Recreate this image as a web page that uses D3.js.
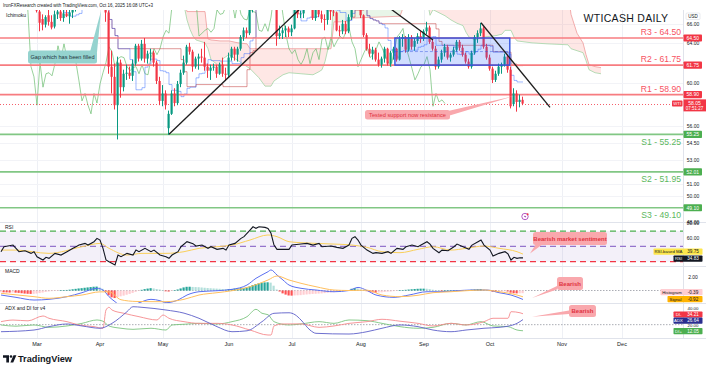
<!DOCTYPE html>
<html><head><meta charset="utf-8">
<script src="https://cdn.jsdelivr.net/npm/d3@7"></script>
<style>body{margin:0;background:#fff;}svg{display:block;font-family:"Liberation Sans",Arial,sans-serif;}</style>
</head><body><svg id="c" width="706" height="367"></svg>
<script>
// ---------------- DATA ----------------
const firstIndex = -12; // bar index of first candle (Mar 3 2025 = 0)
const ohlc = [
[71.3,71.9,70.8,71.3],[71.3,71.6,70.5,70.7],[70.7,71.3,70.5,71.1],[71.1,72.0,70.9,71.8],[71.8,72.6,71.5,72.2],[72.2,72.9,72.0,72.5],
[72.5,72.7,70.2,70.4],[70.4,71.2,70.1,70.7],[70.7,71.0,68.6,68.9],[68.9,69.3,68.1,68.6],[68.6,70.6,68.5,70.3],[70.3,70.5,69.2,69.8],
[69.8,70.5,67.2,67.4],[67.3,68.0,65.2,66.1],[66.5,67.0,65.3,65.9],[65.9,66.9,65.6,66.7],[66.9,67.5,65.8,66.2],[66.2,66.9,65.4,65.6],
[65.7,67.4,65.5,67.0],[67.0,67.7,66.5,67.3],[67.3,68.0,66.3,66.6],[66.6,67.6,66.2,67.1],[67.1,68.2,66.7,66.8],[66.8,67.5,66.0,67.2],
[67.2,68.0,66.6,67.6],[67.6,68.5,67.3,68.1],[68.1,68.6,67.8,68.3],[68.3,69.5,68.0,69.1],[69.1,69.4,68.7,69.0],[69.0,70.0,68.6,69.7],
[69.7,70.2,69.3,69.9],[69.9,70.0,69.0,69.4],[69.4,71.6,69.3,71.5],[71.5,71.9,70.5,71.2],[71.2,72.0,70.6,71.7],[69.5,69.8,66.2,67.2],
[67.2,67.4,60.9,61.6],[61.6,63.2,59.0,60.6],[60.6,61.9,57.5,57.9],[57.9,62.6,54.8,62.0],[62.0,62.3,58.6,59.6],[59.6,61.3,59.2,60.9],
[60.9,61.8,60.3,61.0],[61.0,61.6,60.4,60.7],[60.7,62.3,60.2,61.9],[61.9,63.9,61.7,63.7],[63.7,63.9,62.1,62.4],[62.4,64.3,62.2,63.9],
[63.9,64.5,62.0,62.4],[62.4,63.2,61.9,62.9],[62.9,63.4,62.2,63.0],[63.0,63.2,61.6,62.0],[62.0,62.2,59.9,60.2],[60.2,60.6,57.9,58.3],
[58.3,59.8,57.8,59.0],[59.0,59.3,57.5,57.9],[55.8,57.4,55.2,57.1],[57.1,59.3,57.0,59.0],[59.0,59.5,57.8,58.1],[58.1,60.2,57.9,59.9],
[59.9,61.3,59.6,61.0],[61.0,62.7,60.8,62.0],[62.0,63.8,61.8,63.6],[63.6,64.0,62.8,63.1],[63.1,63.3,61.1,61.6],[61.6,62.6,61.4,62.4],
[62.4,62.9,61.3,62.6],[62.6,63.4,62.0,62.5],[62.5,64.1,61.2,61.6],[61.6,61.9,60.5,61.2],[61.2,61.8,60.3,61.5],[61.5,61.9,61.2,61.6],
[61.6,61.8,60.5,60.9],[60.9,62.0,60.8,61.8],[61.8,62.5,60.6,60.9],[60.9,61.5,60.2,60.8],[60.8,63.0,60.6,62.5],[62.5,63.6,62.2,63.4],
[63.4,63.6,62.2,62.8],[62.8,63.6,62.1,63.4],[63.4,64.8,63.2,64.6],[64.6,65.6,64.2,65.3],[65.3,65.6,64.5,65.0],[65.0,68.2,64.8,67.9],
[67.9,68.5,67.2,68.0],[68.0,77.6,67.8,73.0],[73.0,74.3,71.0,71.8],[71.8,75.2,71.1,74.8],[74.8,75.6,73.3,75.1],[75.1,75.8,73.6,74.0],
[74.0,75.4,72.8,73.8],[73.8,78.4,68.0,68.5],[68.3,68.6,63.7,64.7],[64.7,65.8,64.4,65.0],[65.0,65.6,64.4,65.3],[65.3,65.8,64.6,65.5],
[65.5,65.7,64.6,65.1],[65.1,65.9,64.7,65.5],[65.5,67.8,65.4,67.5],[67.5,67.9,66.6,67.0],[67.0,67.4,66.6,67.1],[67.1,68.3,66.6,67.9],
[67.9,68.8,67.5,68.3],[68.3,68.6,67.6,68.4],[68.4,68.6,66.4,66.6],[66.6,68.8,66.3,68.5],[68.5,69.7,66.7,67.0],[67.0,67.4,66.1,66.5],
[66.5,67.0,65.3,66.4],[66.4,68.0,65.9,67.5],[67.5,68.0,66.4,67.3],[67.3,67.9,66.8,67.2],[67.2,67.3,65.2,65.3],[65.3,65.8,64.7,65.2],
[65.2,66.4,64.9,66.0],[66.0,66.3,64.9,65.2],[65.2,67.0,65.0,66.7],[66.7,69.5,66.4,69.2],[69.2,70.5,68.9,70.0],[70.0,70.3,68.9,69.3],
[69.3,69.6,66.6,66.9],[66.9,67.0,64.6,64.8],[64.8,65.0,63.2,63.4],[63.4,63.9,62.6,62.9],[62.9,63.6,62.3,63.3],[63.3,63.5,62.1,62.3],
[62.3,63.0,61.6,61.8],[61.8,62.6,61.5,62.4],[62.4,63.6,62.0,63.4],[63.4,63.5,61.7,61.9],[61.9,63.2,61.6,63.0],[63.0,63.6,62.3,63.4],
[63.4,63.5,62.1,62.3],[62.3,64.7,62.2,64.4],[64.4,64.9,63.6,64.6],[64.6,64.7,63.0,63.3],[63.3,64.9,63.1,64.6],[64.6,64.8,63.3,63.6],
[63.6,64.5,63.2,64.2],[64.2,65.0,63.9,64.7],[64.7,65.2,64.0,64.4],[64.4,65.4,64.2,65.2],[65.2,66.2,64.9,65.6],[65.6,65.8,63.9,64.1],
[64.1,64.4,63.2,63.4],[63.4,63.7,61.3,61.6],[61.6,62.6,61.4,62.3],[62.3,63.3,62.0,63.0],[63.0,63.9,62.6,63.6],[63.6,63.8,62.3,62.5],
[62.5,63.0,62.1,62.8],[62.8,63.6,62.6,63.3],[63.3,64.3,63.1,64.1],[64.1,64.3,63.2,63.5],[63.5,63.8,62.6,62.8],[62.8,63.0,61.9,62.1],
[62.1,62.4,61.4,61.6],[61.6,63.2,61.4,63.0],[63.0,64.8,62.8,64.6],[64.6,65.3,64.0,65.0],[65.0,66.1,64.7,65.5],[65.5,65.7,63.4,63.6],
[63.6,63.9,62.3,62.5],[62.5,62.8,61.2,61.4],[61.4,61.6,60.0,60.3],[60.3,61.2,60.1,60.9],[60.9,61.9,60.7,61.6],[61.6,62.0,60.9,61.8],
[61.8,62.9,61.6,62.6],[62.6,62.8,61.0,61.3],[61.3,61.6,57.6,57.8],[58.0,59.5,57.8,59.0],[59.0,59.3,57.3,58.2],[58.2,58.9,57.7,58.4],
[58.4,58.7,57.9,58.05]
];
const monthTicks = [[0,"Mar"],[21,"Apr"],[42,"May"],[64,"Jun"],[85,"Jul"],[108,"Aug"],[129,"Sep"],[151,"Oct"],[175,"Nov"],[195,"Dec"]];
const priceTicks = [66,64,60,56,54.5,53,51,50,48];
const resistances = [[64.50,"R3 - 64.50","64.50"],[61.75,"R2 - 61.75","61.75"],[58.90,"R1 - 58.90","58.90"]];
const supports = [[55.25,"S1 - 55.25","55.25"],[52.01,"S2 - 51.95","52.01"],[49.10,"S3 - 49.10","49.10"]];
const lastPrice = 58.05;
// Ichimoku: [barIndex, value]
const tenkan = [[0,69.5],[6,68.0],[9,67.2],[11,66.8],[13,66.95],[14,67.1],[15,67.75],[17,68.5],[20,69.0],[23,69.1],[24,66.45],[25,65.5],[26,64.75],[27,63.4],[31,62.3],[32,61.1],[33,59.35],[35,59.55],[36,61.55],[37,61.85],[38,62.35],[40,62.2],[41,61.2],[42,61.15],[43,61.0],[44,59.85],[45,59.3],[47,59.2],[48,58.7],[49,58.95],[50,59.5],[51,59.6],[53,60.5],[54,60.9],[55,60.95],[56,61.85],[57,62.3],[58,62.2],[61,62.15],[65,61.9],[68,62.5],[69,62.9],[71,64.2],[72,64.55],[73,69.85],[80,71],[88,66.3],[90,66.6],[91,66.7],[93,66.75],[94,67.55],[95,67.9],[96,67.5],[100,67.45],[101,67.2],[103,66.35],[105,67.1],[106,67.6],[109,67.55],[110,66.85],[111,66.55],[112,66.4],[113,66.3],[114,66.05],[115,65.9],[116,65.55],[117,64.25],[118,63.25],[119,62.75],[120,62.55],[121,63.1],[122,63.2],[124,63.25],[127,63.55],[128,63.65],[129,63.8],[130,64.55],[131,64.6],[132,64.65],[133,63.75],[139,63.55],[140,62.85],[141,62.8],[142,62.85],[143,63.1],[144,62.85],[146,63.1],[147,63.35],[148,63.75],[151,63.65],[152,63.05],[157,62.85],[158,60.75],[159,60.25],[160,60.1],[162,60.1]];
const kijun = [[0,69.5],[23,68.6],[24,66.45],[25,65.5],[26,64.75],[27,63.4],[48,62.3],[49,61.1],[50,59.65],[53,59.85],[62,59.65],[70,61.3],[71,63.0],[72,63.2],[73,68.6],[74,71.0],[105,66.7],[106,67.45],[109,67.55],[110,66.85],[111,66.55],[112,66.4],[113,66.3],[114,66.05],[115,66.0],[133,65.45],[134,64.15],[135,63.75],[152,63.1],[156,63.05],[158,61.85],[160,61.7],[162,61.7]];
const cloudIndex = [40,48,49,50,51,52,53,56,57,58,61,62,64,67,70,71,74,76,78,79,82,84,88,92,94,95,96,97,98,99,104,105,121,122,123,124,125,130,131,132,136,138,140,142,143,144,146,149,153,155,156,158,159,160,165,170,177,178,180,182,183,184,186,188];
const spanA = [68.5,69.2,68.0,66.4,65.4,64.7,64.3,64.0,63.4,62.3,61.6,62.4,62.8,62.2,61.6,61.4,60.5,59.7,59.7,60.2,60.8,61.0,60.9,60.8,61.1,61.3,62.1,63.4,64.0,69.5,70.0,70.0,69.0,69.0,69.0,68.9,68.8,68.7,66.9,67.5,66.85,66.4,66.05,65.8,65.1,64.6,64.3,64.6,64.75,64.9,65.3,65.3,64.6,64.2,64.0,63.9,63.8,63.4,63.2,63.0,62.2,61.3,61.0,60.9];
const spanB = [71.5,71.0,68.5,67.3,67.3,67.3,67.3,67.3,64.4,64.3,64.2,64.2,64.2,64.0,63.9,63.4,63.4,63.4,63.4,63.4,63.4,63.4,63.4,63.4,63.4,63.4,63.4,63.4,63.4,66.2,66.2,66.6,66.8,67.7,68.1,68.9,69.3,69.5,69.5,69.5,69.5,69.5,69.5,69.5,69.5,69.5,69.5,69.5,69.5,69.5,69.5,69.5,69.5,69.5,69.5,69.5,69.5,67.0,65.0,64.0,62.8,61.8,61.6,61.5];
// Drawings: [barIndex, price]
const trendUp = [[44,55.25],[88,67.7]];
const trendDown1 = [[106,70.5],[132,64.3]];
const trendDown2 = [[148,66.1],[171,57.7]];
const rangeBox = [[119.3,64.5],[157.6,61.75]];
// RSI
const rsi = [[-12,42.9],[-11,49.4],[-8,51.6],[-7,47.3],[-6,42.9],[-4,44.2],[-2,40.7],[-1,42.9],[0,36.3],[2,32],[3,35.5],[4,34.2],[6,40.7],[8,38.5],[10,42.9],[12,47.3],[13,49.4],[14,51.6],[16,53.8],[17,51.6],[19,56],[20,60.4],[21,58.2],[22,47.3],[23,32],[24,29.8],[26,25.4],[27,38.5],[28,36.3],[30,40.7],[32,38.5],[33,45],[34,42.9],[36,47.3],[38,42.9],[39,45],[41,38.5],[43,36.3],[44,34.2],[45,38.5],[47,42.9],[48,49.4],[50,56],[52,53.4],[53,50.3],[55,51.6],[57,47.3],[58,49.4],[60,46],[62,47.3],[63,45],[64,51.6],[66,53.8],[68,60.4],[69,62.6],[71,71.3],[72,75.6],[73,73.5],[74,75.6],[76,74.8],[77,73.5],[78,67],[79,51.6],[80,46],[82,46],[84,46],[85,51.6],[88,52.9],[90,53.8],[92,51.6],[94,53.8],[95,49.4],[98,50.3],[100,48.6],[102,47.3],[104,51.6],[105,60.4],[106,62.6],[107,58.2],[108,51.6],[110,45],[112,40.7],[113,41.6],[115,40.7],[117,42.9],[118,40.7],[120,47.3],[122,46],[123,49.4],[125,51.6],[127,49.4],[128,51.6],[130,56],[131,52.9],[132,47.3],[134,41.6],[135,45],[137,44.2],[139,49.4],[140,52.9],[142,49.4],[144,46],[145,51.6],[147,56],[148,58.2],[149,51.6],[151,45],[152,37.2],[154,40.7],[156,42.9],[157,40],[158,32],[159,35.5],[160,34.2],[161,35],[162,34.83]];
const rsiMA = [[-12,45],[-7,45],[4,40.7],[15,49.4],[21,53.8],[24,47.3],[30,38.5],[35,40.7],[43,40.7],[49,42.9],[54,47.3],[60,49.4],[65,51.6],[71,58.2],[77,64.8],[80,62.6],[84,56],[88,54.7],[99,52.9],[105,51.6],[110,48.6],[115,42.9],[121,41.6],[127,46],[132,49.4],[138,45],[143,47.3],[149,50.3],[154,47.3],[160,42.9],[162,39.75]];
// MACD
const macdLine = [[-12,-0.66],[-7,-1.0],[-1,-1.39],[4,-1.29],[10,-0.9],[15,-0.32],[20,0.32],[22,0.07],[24,-0.9],[26,-1.63],[28,-2.2],[31,-2.3],[34,-1.8],[38,-1.29],[41,-1.49],[43,-1.78],[47,-1.39],[50,-0.66],[54,-0.18],[60,-0.03],[65,0.17],[70,0.8],[73,1.78],[77,2.74],[78,3.0],[80,2.26],[82,1.53],[84,0.8],[88,0.32],[93,0.07],[99,-0.18],[104,0],[107,0.45],[110,0],[113,-0.66],[119,-1.0],[124,-0.66],[130,-0.18],[134,-0.18],[140,-0.03],[145,0.07],[150,0.07],[154,-0.32],[158,-0.66],[162,-1.31]];
const signalLine = [[-12,-0.41],[-1,-0.9],[4,-1.14],[10,-0.9],[15,-0.66],[21,-0.2],[24,-0.2],[28,-1.35],[33,-1.6],[38,-1.63],[43,-1.63],[49,-1.29],[54,-0.66],[60,-0.32],[65,-0.03],[71,0.55],[77,1.53],[80,2.12],[84,1.53],[88,1.05],[93,0.55],[99,0.07],[104,0],[110,0.05],[115,-0.66],[121,-0.9],[127,-0.7],[132,-0.32],[138,-0.18],[143,-0.03],[149,0.07],[154,-0.18],[160,-0.66],[162,-0.92]];
const histogram = [-0.25,-0.27,-0.28,-0.3,-0.3,-0.32,-0.35,-0.4,-0.45,-0.48,-0.5,-0.49,-0.45,-0.38,-0.3,-0.22,-0.15,-0.1,-0.05,-0.02,0.02,0.05,0.08,0.12,0.18,0.24,0.3,0.34,0.4,0.45,0.5,0.55,0.57,0.45,0.25,-0.2,-0.7,-1.0,-1.1,-0.95,-0.85,-0.75,-0.62,-0.5,-0.35,-0.2,-0.05,0.1,0.2,0.28,0.34,0.3,0.22,0.15,0.02,-0.12,-0.15,-0.05,0.05,0.15,0.3,0.45,0.54,0.55,0.52,0.5,0.48,0.44,0.4,0.36,0.33,0.3,0.28,0.25,0.22,0.2,0.2,0.22,0.26,0.3,0.35,0.38,0.45,0.6,0.8,0.95,1.05,1.12,1.18,1.2,1.15,0.7,0.15,-0.15,-0.42,-0.6,-0.73,-0.75,-0.72,-0.7,-0.68,-0.62,-0.58,-0.54,-0.5,-0.48,-0.45,-0.42,-0.38,-0.33,-0.28,-0.25,-0.2,-0.15,-0.08,-0.02,0.05,0.25,0.35,0.3,0.15,0.0,-0.1,-0.2,-0.28,-0.32,-0.3,-0.27,-0.22,-0.18,-0.15,-0.1,-0.05,0.0,0.05,0.1,0.14,0.18,0.22,0.25,0.27,0.27,0.26,0.2,0.12,0.05,0.0,-0.03,0.02,0.05,0.06,0.07,0.07,0.05,0.03,0.04,0.08,0.12,0.16,0.2,0.22,0.15,0.05,-0.08,-0.18,-0.22,-0.2,-0.16,-0.12,-0.15,-0.32,-0.4,-0.42,-0.41,-0.39];
// ADX and DI
const diMinus = [[-12,23.9],[-8,26],[-3,25],[2,31.3],[4,28.3],[10,23.9],[14,19.6],[19,17.4],[22,15.3],[23,39.1],[24,42.6],[25,39.1],[29,34.8],[34,30.4],[40,26.1],[42,32.6],[44,28.3],[49,23.9],[54,21.7],[60,21.7],[65,19.6],[71,13],[77,6.5],[78,6.5],[79,18.3],[82,20.9],[88,21],[94,16.5],[99,18.3],[104,21.7],[110,23.9],[115,27],[121,24.5],[127,21.7],[132,18.3],[138,21.7],[143,19.6],[149,23.9],[152,28.3],[157,28.3],[158,36.9],[161,35.5],[162,34.21]];
const diPlus = [[-12,19.6],[-7,18],[-1,19.6],[4,16.5],[10,18.3],[15,21.7],[20,26.1],[22,24.5],[24,18.3],[28,15.3],[32,13.9],[38,15.3],[43,13],[45,19.6],[49,20.5],[54,21.7],[60,20.9],[65,23.9],[70,30.4],[73,40],[75,34.8],[77,33],[79,23.9],[84,19.6],[88,20.9],[94,23.9],[99,21.7],[104,26.1],[110,25.2],[115,21.7],[121,17.4],[127,15.3],[132,16.5],[138,21.7],[143,19.6],[148,23.9],[152,18.3],[157,17.4],[160,13],[162,12.05]];
const adxLine = [[-12,10.8],[-1,13],[4,17.4],[10,20.9],[15,18.3],[21,15.3],[25,21.7],[30,36.9],[32,43.4],[35,42.6],[43,39.1],[49,35],[54,28.3],[60,17.4],[65,10.8],[70,12],[75,23.9],[79,34.8],[84,35.5],[86,33],[88,26.1],[91,13],[93,8.7],[104,7.8],[110,10.8],[115,15.3],[121,19.6],[127,17.4],[132,13],[138,10.8],[143,13],[149,15.3],[154,16.5],[157,18],[160,21.7],[162,26.64]];

// ---------------- CHART ----------------
const svg = d3.select("#c");
const plotR = 683;
const x = d3.scaleLinear().domain([-12.333, 215.333]).range([0, plotR]);
const yM = d3.scaleLog().domain([47.99, 67.47]).range([222, 10]);
const yR = d3.scaleLinear().domain([0, 100]).range([284.4, 208.15]);
const yD = d3.scaleLinear().domain([-3, 3]).range([311.05, 269.95]);
const yA = d3.scaleLinear().domain([0, 50]).range([340, 301.65]);
const TXT = "#131722";

svg.append("rect").attr("width",706).attr("height",367).attr("fill","#fff");
const defs = svg.append("defs");
function clip(id,x0,y0,w,h){defs.append("clipPath").attr("id",id).append("rect").attr("x",x0).attr("y",y0).attr("width",w).attr("height",h);}
clip("cm",0,10,plotR,212); clip("cr",0,222.5,plotR,43.5); clip("cd",0,266.5,plotR,36.5); clip("ca",0,303.5,plotR,34.5);

// grid
const grid = svg.append("g");
monthTicks.forEach(([i])=>grid.append("line").attr("x1",x(i)+0.5).attr("x2",x(i)+0.5).attr("y1",10).attr("y2",338).attr("stroke","#eef0f5").attr("stroke-width",1));
priceTicks.forEach(p=>grid.append("line").attr("x1",0).attr("x2",plotR).attr("y1",Math.round(yM(p))+0.5).attr("y2",Math.round(yM(p))+0.5).attr("stroke","#f2f3f7"));
[222.5,266.5,303.5,338.5].forEach(y=>svg.append("line").attr("x1",0).attr("x2",706).attr("y1",y).attr("y2",y).attr("stroke","#e0e3eb"));
svg.append("line").attr("x1",plotR+0.5).attr("x2",plotR+0.5).attr("y1",10).attr("y2",338).attr("stroke","#e0e3eb");

// ---- main pane ----
const gm = svg.append("g").attr("clip-path","url(#cm)");
const cloud = cloudIndex.map((i,k)=>({i, a:spanA[k], b:spanB[k]}));
gm.append("path").datum(cloud).attr("fill","rgba(244,67,54,0.13)")
  .attr("d", d3.area().x(d=>x(d.i)).y0(d=>yM(Math.min(d.a,d.b))).y1(d=>yM(d.b)));
gm.append("path").datum(cloud).attr("fill","rgba(76,175,80,0.13)")
  .attr("d", d3.area().x(d=>x(d.i)).y0(d=>yM(Math.min(d.a,d.b))).y1(d=>yM(d.a)));
gm.append("path").datum(cloud).attr("fill","none").attr("stroke","#a5d6a7").attr("stroke-width",0.8)
  .attr("d", d3.line().x(d=>x(d.i)).y(d=>yM(d.a)));
gm.append("path").datum(cloud).attr("fill","none").attr("stroke","#ef9a9a").attr("stroke-width",0.8)
  .attr("d", d3.line().x(d=>x(d.i)).y(d=>yM(d.b)));

const bars = ohlc.map((d,k)=>({i:firstIndex+k,o:d[0],h:d[1],l:d[2],c:d[3]}));
const lag = bars.map(b=>[b.i-26,b.c]).filter(p=>p[0]>=firstIndex);
gm.append("path").datum(lag).attr("fill","none").attr("stroke","#66bb6a").attr("stroke-opacity",0.75).attr("stroke-width",0.9)
  .attr("d", d3.line().x(d=>x(d[0])).y(d=>yM(d[1])));
gm.append("path").datum(kijun).attr("fill","none").attr("stroke","#b71c1c").attr("stroke-opacity",0.5).attr("stroke-width",0.9)
  .attr("d", d3.line().curve(d3.curveStepAfter).x(d=>x(d[0])).y(d=>yM(d[1])));
gm.append("path").datum(tenkan).attr("fill","none").attr("stroke","#2962ff").attr("stroke-opacity",0.5).attr("stroke-width",0.9)
  .attr("d", d3.line().curve(d3.curveStepAfter).x(d=>x(d[0])).y(d=>yM(d[1])));

resistances.forEach(([v])=>gm.append("line").attr("x1",0).attr("x2",plotR).attr("y1",yM(v)).attr("y2",yM(v)).attr("stroke","#f77c80").attr("stroke-width",1.7));
supports.forEach(([v])=>gm.append("line").attr("x1",0).attr("x2",plotR).attr("y1",yM(v)).attr("y2",yM(v)).attr("stroke","#81c784").attr("stroke-width",1.7));
gm.append("line").attr("x1",0).attr("x2",plotR).attr("y1",Math.round(yM(lastPrice))+0.5).attr("y2",Math.round(yM(lastPrice))+0.5)
  .attr("stroke","#f23645").attr("stroke-width",0.8).attr("stroke-dasharray","1,2");

// candles
const cg = gm.append("g");
bars.forEach(b=>{
  const col = b.c>=b.o ? "#089981" : "#f23645";
  const xc = Math.round(x(b.i));
  cg.append("line").attr("x1",xc-0.5).attr("x2",xc-0.5).attr("y1",yM(b.h)).attr("y2",yM(b.l)).attr("stroke",col).attr("stroke-width",1);
  const y1 = yM(Math.max(b.o,b.c)), y2 = yM(Math.min(b.o,b.c));
  cg.append("rect").attr("x",xc-1.5).attr("width",2.2).attr("y",y1).attr("height",Math.max(0.8,y2-y1)).attr("fill",col);
});

// range box
const midP = Math.sqrt(rangeBox[0][1]*rangeBox[1][1]);
gm.append("rect").attr("x",x(rangeBox[0][0])).attr("y",yM(rangeBox[0][1]))
  .attr("width",x(rangeBox[1][0])-x(rangeBox[0][0])).attr("height",yM(rangeBox[1][1])-yM(rangeBox[0][1]))
  .attr("fill","rgba(41,98,255,0.22)").attr("stroke","#3153e0").attr("stroke-width",1.4);
gm.append("line").attr("x1",x(rangeBox[0][0])).attr("x2",x(rangeBox[1][0])).attr("y1",yM(midP)).attr("y2",yM(midP))
  .attr("stroke","#3153e0").attr("stroke-opacity",0.6).attr("stroke-dasharray","3,2").attr("stroke-width",0.8);

const tl = d3.line().x(d=>x(d[0])).y(d=>yM(d[1]));
[trendUp,trendDown1,trendDown2].forEach(t=>gm.append("path").datum(t).attr("d",tl).attr("stroke","#1e1e1e").attr("stroke-width",1.3).attr("fill","none"));

resistances.forEach(([v,t])=>svg.append("text").attr("x",681).attr("y",yM(v)-3).attr("text-anchor","end").attr("font-size",8.6).attr("fill","#f7525f").text(t));
supports.forEach(([v,t])=>svg.append("text").attr("x",681).attr("y",yM(v)+10.5).attr("text-anchor","end").attr("font-size",8.6).attr("fill","#5cb860").text(t));

function callout(pts, fill){svg.append("polygon").attr("points",pts.map(p=>p.join(",")).join(" ")).attr("fill",fill);}
function box(x0,y0,w,h,fill,txt,col,fs,bold){
  svg.append("rect").attr("x",x0).attr("y",y0).attr("width",w).attr("height",h).attr("rx",2.5).attr("fill",fill);
  svg.append("text").attr("x",x0+w/2).attr("y",y0+h/2+fs*0.36).attr("text-anchor","middle").attr("font-size",fs).attr("fill",col).attr("font-weight",bold?"bold":"normal").text(txt);
}
callout([[90,52],[97,52],[101,11]],"#95d3cf");
box(28,50.5,69,13,"#95d3cf","Gap which has been filled","#1d3340",5.6,false);
callout([[448,111],[448,116],[514,96]],"#f9a8ad");
box(365,110,85,9.5,"#f9a8ad","Tested support now resistance","#e0313f",5.7,false);

svg.append("text").attr("x",3).attr("y",6.5).attr("font-size",4.5).attr("fill",TXT).text("IronFXResearch created with TradingView.com, Oct 16, 2025 16:08 UTC+3");
svg.append("text").attr("x",6).attr("y",17).attr("font-size",5).attr("fill",TXT).text("Ichimoku");
svg.append("text").attr("x",626).attr("y",22).attr("text-anchor","middle").attr("font-size",10.5).attr("fill",TXT).attr("letter-spacing",0.3).text("WTICASH DAILY");

svg.append("circle").attr("cx",525).attr("cy",216.5).attr("r",3.2).attr("fill","#fff").attr("stroke","#ab47bc").attr("stroke-width",0.9);
svg.append("path").attr("d","M525.6 214.3 L523.9 216.9 L525.3 216.9 L524.6 218.8 L526.3 216.1 L524.9 216.1 Z").attr("fill","#ab47bc");
svg.append("circle").attr("cx",527.6).attr("cy",214.2).attr("r",1).attr("fill","#f23645");

// ---- RSI pane ----
const gr = svg.append("g").attr("clip-path","url(#cr)");
gr.append("rect").attr("x",0).attr("width",plotR).attr("y",yR(70)).attr("height",yR(30)-yR(70)).attr("fill","rgba(126,87,194,0.09)");
[[70,"#4caf50"],[50,"#9575cd"],[30,"#f23645"]].forEach(([v,c])=>gr.append("line").attr("x1",0).attr("x2",plotR).attr("y1",yR(v)).attr("y2",yR(v)).attr("stroke",c).attr("stroke-width",1.2).attr("stroke-dasharray","6,4"));
gr.append("path").datum(rsiMA).attr("fill","none").attr("stroke","#f9cf5a").attr("stroke-width",1).attr("d",d3.line().curve(d3.curveMonotoneX).x(d=>x(d[0])).y(d=>yR(d[1])));
gr.append("path").datum(rsi).attr("fill","none").attr("stroke","#131722").attr("stroke-width",1.1).attr("d",d3.line().x(d=>x(d[0])).y(d=>yR(d[1])));
svg.append("text").attr("x",5).attr("y",229).attr("font-size",5).attr("fill",TXT).text("RSI");
callout([[536,244],[543,244],[530,253.5]],"#f9a8ad");
box(533,232,74,13,"#f9a8ad","Bearish market sentiment","#e0313f",6,true);

// ---- MACD pane ----
const gd = svg.append("g").attr("clip-path","url(#cd)");
gd.append("line").attr("x1",0).attr("x2",plotR).attr("y1",yD(0)).attr("y2",yD(0)).attr("stroke","#9598a1").attr("stroke-width",0.8).attr("stroke-dasharray","1.5,1.5");
histogram.forEach((v,k)=>{
  const prev = k>0?histogram[k-1]:v;
  const col = v>=0 ? (v>=prev?"#26a69a":"#b2dfdb") : (v<prev?"#ff5252":"#ffcdd2");
  const xc = Math.round(x(firstIndex+k));
  gd.append("rect").attr("x",xc-1.5).attr("width",2.2).attr("y",Math.min(yD(v),yD(0))).attr("height",Math.max(0.5,Math.abs(yD(v)-yD(0)))).attr("fill",col);
});
gd.append("path").datum(macdLine).attr("fill","none").attr("stroke","#5b6ff0").attr("stroke-width",1).attr("d",d3.line().curve(d3.curveMonotoneX).x(d=>x(d[0])).y(d=>yD(d[1])));
gd.append("path").datum(signalLine).attr("fill","none").attr("stroke","#ffbf5e").attr("stroke-width",1).attr("d",d3.line().curve(d3.curveMonotoneX).x(d=>x(d[0])).y(d=>yD(d[1])));
svg.append("text").attr("x",5).attr("y",273).attr("font-size",5).attr("fill",TXT).text("MACD");
callout([[557,286],[557,289.5],[532,298]],"#f9a8ad");
box(557,277,26,13,"#f9a8ad","Bearish","#e0313f",6,true);

// ---- ADX pane ----
const ga = svg.append("g").attr("clip-path","url(#ca)");
ga.append("line").attr("x1",0).attr("x2",plotR).attr("y1",yA(20)).attr("y2",yA(20)).attr("stroke","#9598a1").attr("stroke-width",0.8).attr("stroke-dasharray","1.5,1.5");
const la = d3.line().curve(d3.curveMonotoneX).x(d=>x(d[0])).y(d=>yA(d[1]));
ga.append("path").datum(diPlus).attr("fill","none").attr("stroke","#7cc47f").attr("stroke-width",0.9).attr("d",la);
ga.append("path").datum(diMinus).attr("fill","none").attr("stroke","#f58a8d").attr("stroke-width",0.9).attr("d",la);
ga.append("path").datum(adxLine).attr("fill","none").attr("stroke","#5c5fc8").attr("stroke-width",0.9).attr("d",la);
svg.append("text").attr("x",5).attr("y",310).attr("font-size",5).attr("fill",TXT).text("ADX and DI for v4");
callout([[569,310.5],[569,314],[532,316.7]],"#f9a8ad");
box(569,305,27,12,"#f9a8ad","Bearish","#e0313f",6,true);

// ---- time axis ----
monthTicks.forEach(([i,t])=>svg.append("text").attr("x",x(i)).attr("y",345.5).attr("text-anchor","middle").attr("font-size",5.5).attr("fill",TXT).text(t));

// ---- right axis ----
const ax = svg.append("g").attr("font-size",5).attr("text-anchor","middle");
priceTicks.forEach(p=>ax.append("text").attr("x",693).attr("y",yM(p)+1.8).attr("fill",TXT).text(p.toFixed(2)));
ax.append("rect").attr("x",686).attr("y",13).attr("width",14).attr("height",6.5).attr("rx",1).attr("fill","#fff").attr("stroke","#d1d4dc").attr("stroke-width",0.5);
ax.append("text").attr("x",693).attr("y",17.9).attr("font-size",4.5).attr("fill",TXT).text("USD");
function plabel(y,t,bg){ax.append("rect").attr("x",683.5).attr("y",y-3.6).attr("width",18.5).attr("height",7.2).attr("rx",0.8).attr("fill",bg);
  ax.append("text").attr("x",692.7).attr("y",y+1.8).attr("fill","#fff").text(t);}
resistances.forEach(([v,t,a])=>plabel(yM(v),a,"#f23645"));
supports.forEach(([v,t,a])=>plabel(yM(v),a,"#4caf50"));
const yl = yM(lastPrice);
ax.append("rect").attr("x",672).attr("y",yl-3).attr("width",10.5).attr("height",6).attr("rx",0.8).attr("fill","#f23645");
ax.append("text").attr("x",677.2).attr("y",yl+1.7).attr("font-size",4.3).attr("fill","#fff").text("WTI");
ax.append("rect").attr("x",683.5).attr("y",yl-4.2).attr("width",22.5).attr("height",12).attr("fill","#f23645");
ax.append("text").attr("x",694.5).attr("y",yl+1.3).attr("fill","#fff").text(lastPrice.toFixed(2));
ax.append("text").attr("x",694.5).attr("y",yl+6.6).attr("font-size",4.5).attr("fill","#fff").text("07:51:27");
[80,60].forEach(v=>ax.append("text").attr("x",693).attr("y",yR(v)+1.8).attr("fill",TXT).text(v.toFixed(2)));
function vlabel(y,name,val,bg,fg,nameW){
  ax.append("rect").attr("x",683.5-nameW).attr("y",y-3).attr("width",nameW+19).attr("height",6.2).attr("rx",0.8).attr("fill",bg);
  ax.append("text").attr("x",683.5-nameW/2).attr("y",y+1.6).attr("font-size",4.3).attr("fill",fg).text(name);
  ax.append("text").attr("x",693).attr("y",y+1.6).attr("font-size",4.6).attr("fill",fg).text(val);
}
vlabel(251.5,"RSI-based MA","39.75","#fde64b",TXT,30);
vlabel(258.5,"RSI","34.83","#131722","#fff",10);
ax.append("text").attr("x",693).attr("y",yD(2)+1.8).attr("fill",TXT).text("2.00");
vlabel(292,"Histogram","-0.39","#ffcdd2",TXT,23);
vlabel(299,"Signal","-0.92","#ffb300",TXT,16);
ax.append("text").attr("x",693).attr("y",yA(40)+0.6).attr("font-size",4.4).attr("fill",TXT).text("40.00");
ax.append("text").attr("x",693).attr("y",yA(20)+2.4).attr("font-size",4.4).attr("fill",TXT).text("20.00");
vlabel(314.4,"DI-","34.21","#f23645","#fff",10);
vlabel(320.6,"ADX","26.64","#2a2e8f","#fff",10);
vlabel(331,"DI+","12.05","#4caf50","#fff",10);

// ---- TradingView logo ----
const lg = svg.append("g").attr("fill","#131722");
lg.append("path").attr("d","M3 355.2 H9 V362.5 H6.3 V357.8 H3 Z");
lg.append("circle").attr("cx",11).attr("cy",356.5).attr("r",1.3);
lg.append("path").attr("d","M13.5 355.2 H16.4 L13.2 362.5 H10.4 Z");
svg.append("text").attr("x",18).attr("y",362.3).attr("font-size",9.2).attr("font-weight","bold").attr("fill","#131722").text("TradingView");
</script></body></html>
